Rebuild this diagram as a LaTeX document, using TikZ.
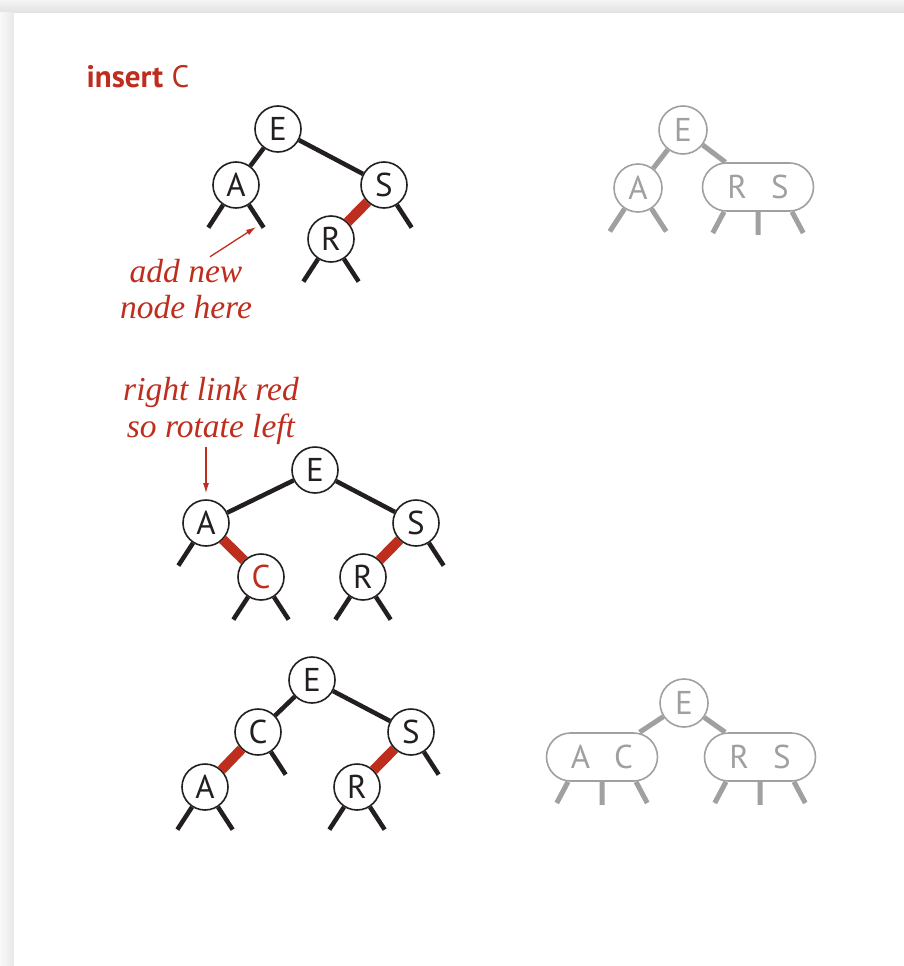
\documentclass[tikz,border=0pt]{standalone}
\usepackage{fontspec}
\setsansfont{PT Sans}
\newfontfamily\notefamily{Liberation Serif}
\usetikzlibrary{arrows.meta}

\definecolor{linkred}{RGB}{190,46,30}
\definecolor{ghostgray}{RGB}{160,160,160}
\definecolor{ink}{RGB}{35,31,32}
\newcommand\keyfont{\sffamily\fontsize{33pt}{36pt}\selectfont}
\newcommand\notefont{\notefamily\itshape\fontsize{33.5pt}{36.5pt}\selectfont}

\tikzset{
  key/.style={circle, draw=ink, line width=1.6pt, fill=white, text=ink,
    minimum size=46pt, inner sep=0pt, font=\keyfont},
  ghostkey/.style={circle, draw=ghostgray, line width=1.6pt, fill=white,
    text=ghostgray, minimum size=48pt, inner sep=0pt, font=\keyfont},
  ghostpair/.style={ghostkey, rectangle, rounded corners=24pt,
    minimum width=111pt, minimum height=48pt},
  blacklink/.style={line width=4.5pt, ink},
  redlink/.style={line width=10pt, linkred},
  ghostlink/.style={line width=5pt, ghostgray},
  note/.style={font=\notefont, text=linkred, align=center, inner sep=2pt},
  notearrow/.style={linkred, line width=1.3pt, -{Latex[length=10pt,width=6pt]}}
}

\begin{document}
\begin{tikzpicture}[x=1pt, y=-1pt]
\useasboundingbox (0, 0) rectangle (904, 966);
\fill [gray!12] (0, 0) rectangle (904, 966);
\shade [top color=gray!8, bottom color=gray!24] (0, 0) rectangle (904, 13);
\shade [left color=gray!5, right color=gray!18] (0, 13) rectangle (14, 966);
\fill [white] (14, 13) rectangle (904, 966);

\newcommand\stubl[2]{\draw[#1] (#2.237) -- ++(237:27pt);}
\newcommand\stubr[2]{\draw[#1] (#2.303) -- ++(303:27pt);}
\newcommand\pairstubs[1]{\draw[ghostlink] ([xshift=-34pt]#1.south) -- ++(242:24pt)
  (#1.south) -- ++(270:23pt) ([xshift=34pt]#1.south) -- ++(298:24pt);}

\node (title) at (83, 87) [anchor=base west, text=linkred, font=\sffamily\fontsize{31pt}{34pt}\selectfont] {\textbf{insert} C};

\node (e1) at (278, 129) [key] {E};
\node (a1) at (236, 185) [key] {A};
\node (s1) at (384, 185) [key] {S};
\node (r1) at (331, 239) [key] {R};
\draw [blacklink] (e1) -- (a1);
\draw [blacklink] (e1) -- (s1);
\draw [redlink] (s1) -- (r1);
\stubl{blacklink}{a1} \stubr{blacklink}{a1}
\stubr{blacklink}{s1}
\stubl{blacklink}{r1} \stubr{blacklink}{r1}
\coordinate (slot1) at (256, 227);
\node (note1) at (186, 289) [note] {add new\\node here};
\draw [notearrow] ([xshift=24pt]note1.north) -- (slot1);

\node (ge1) at (683, 130) [ghostkey] {E};
\node (ga1) at (638, 188) [ghostkey] {A};
\node (grs1) at (758, 187) [ghostpair] {R\hspace{24pt}S};
\draw [ghostlink] (ge1) -- (ga1);
\draw [ghostlink] (ge1) -- (grs1);
\stubl{ghostlink}{ga1} \stubr{ghostlink}{ga1}
\pairstubs{grs1}

\node (note2) at (211, 411) [note] {right link red\\so rotate left};
\node (e2) at (315, 470) [key] {E};
\node (a2) at (206, 523) [key] {A};
\node (s2) at (416, 523) [key] {S};
\node (c2) at (261, 577) [key, text=linkred] {C};
\node (r2) at (363, 577) [key] {R};
\draw [blacklink] (e2) -- (a2);
\draw [blacklink] (e2) -- (s2);
\draw [redlink] (a2) -- (c2);
\draw [redlink] (s2) -- (r2);
\stubl{blacklink}{a2}
\stubr{blacklink}{s2}
\stubl{blacklink}{c2} \stubr{blacklink}{c2}
\stubl{blacklink}{r2} \stubr{blacklink}{r2}
\draw [notearrow, shorten >=6pt] (note2.south -| a2) -- (a2.north);

\node (e3) at (312, 680) [key] {E};
\node (c3) at (258, 732) [key] {C};
\node (s3) at (411, 732) [key] {S};
\node (a3) at (205, 787) [key] {A};
\node (r3) at (357, 787) [key] {R};
\draw [blacklink] (e3) -- (c3);
\draw [blacklink] (e3) -- (s3);
\draw [redlink] (c3) -- (a3);
\draw [redlink] (s3) -- (r3);
\stubr{blacklink}{c3}
\stubr{blacklink}{s3}
\stubl{blacklink}{a3} \stubr{blacklink}{a3}
\stubl{blacklink}{r3} \stubr{blacklink}{r3}

\node (ge3) at (684, 703) [ghostkey] {E};
\node (gac3) at (602, 757) [ghostpair] {A\hspace{24pt}C};
\node (grs3) at (760, 757) [ghostpair] {R\hspace{24pt}S};
\draw [ghostlink] (ge3) -- (gac3);
\draw [ghostlink] (ge3) -- (grs3);
\pairstubs{gac3}
\pairstubs{grs3}
\end{tikzpicture}
\end{document}
